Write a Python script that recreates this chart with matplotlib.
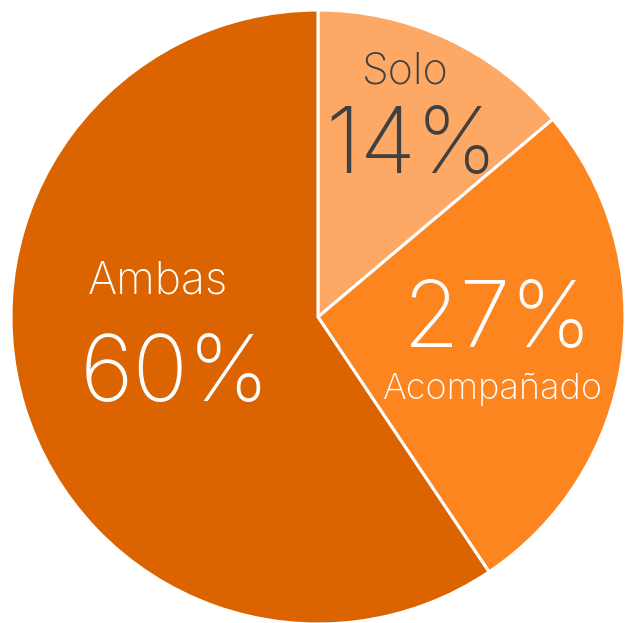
import matplotlib.pyplot as plt

labels = ["Solo", "Acompañado", "Ambas"]
values = [14, 27, 60]
colors = ["#FDA965", "#FD851F", "#DB6300"]
text_colors = ["#404040", "white", "white"]

# baseline positions (in pie units) for the name and the percentage of each slice
name_pos = [(0.283, 0.762), (0.570, -0.267), (-0.521, 0.078)]
name_size = [31, 26, 32]
pct_pos = [(0.306, 0.469), (0.583, -0.098), (-0.466, -0.272)]

plt.rcParams["font.family"] = ["Inter", "DejaVu Sans"]

fig = plt.figure(figsize=(6.26, 6.23), dpi=100)
ax = fig.add_axes([0, 0, 1, 1])
ax.pie(values, colors=colors, startangle=90, counterclock=False,
       radius=1, wedgeprops=dict(edgecolor="white", linewidth=2.2))
ax.set_xlim(-318 / 307, 308 / 307)
ax.set_ylim(-306 / 307, 317 / 307)
ax.set_aspect("equal")
ax.axis("off")

for lab, v, c, npos, ns, ppos in zip(labels, values, text_colors,
                                      name_pos, name_size, pct_pos):
    ax.text(*npos, lab, color=c, fontsize=ns, fontweight="light",
            ha="center", va="baseline")
    ax.text(*ppos, f"{v}%", color=c, fontsize=66, fontweight="light",
            ha="center", va="baseline")

fig.savefig("out.png", dpi=100)
